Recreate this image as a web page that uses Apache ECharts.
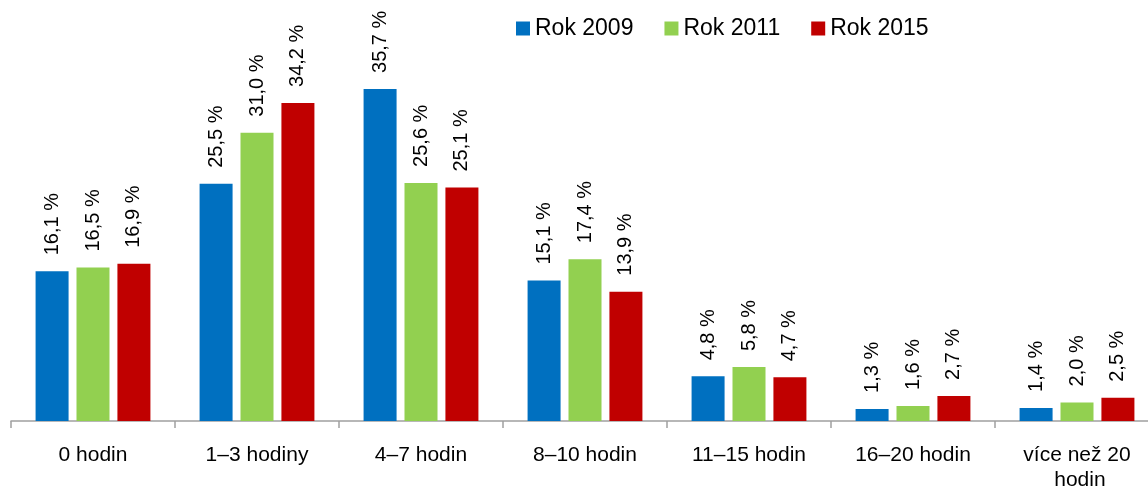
<!DOCTYPE html>
<html>
<head>
<meta charset="utf-8">
<script src="https://cdn.jsdelivr.net/npm/echarts@6/dist/echarts.min.js"></script>
<style>
    html, body { margin: 0; padding: 0; background: #fff; }
    #chart { width: 1148px; height: 490px; }
</style>
</head>
<body>
<div id="chart"></div>
<script>
// Categories and values
var categories = ['0 hodin', '1–3 hodiny', '4–7 hodin', '8–10 hodin', '11–15 hodin', '16–20 hodin', 'více než 20 hodin'];
var rok2009 = [16.1, 25.5, 35.7, 15.1, 4.8, 1.3, 1.4];
var rok2011 = [16.5, 31.0, 25.6, 17.4, 5.8, 1.6, 2.0];
var rok2015 = [16.9, 34.2, 25.1, 13.9, 4.7, 2.7, 2.5];

var chart = echarts.init(document.getElementById('chart'));

var labelStyle = {
    show: true,
    position: 'top',
    rotate: 90,
    align: 'left',
    verticalAlign: 'middle',
    distance: 16,
    fontFamily: 'Liberation Sans',
    fontSize: 20,
    color: '#000',
    formatter: function (p) {
        return p.value.toFixed(1).replace('.', ',') + ' %';
    }
};

var option = {
    animation: false,
    textStyle: { fontFamily: 'Liberation Sans' },
    legend: {
        left: 516,
        top: 17,
        padding: 0,
        itemWidth: 14,
        itemHeight: 14,
        itemGap: 31,
        icon: 'rect',
        textStyle: { fontSize: 23, color: '#000' },
        data: ['Rok 2009', 'Rok 2011', 'Rok 2015']
    },
    grid: {
        left: 11,
        right: -11,
        top: 49,
        bottom: 69,
        outerBoundsMode: 'none'
    },
    xAxis: {
        type: 'category',
        data: categories,
        axisLine: { show: true, lineStyle: { color: '#a0a0a0', width: 1.5 } },
        axisTick: { show: true, length: 7, lineStyle: { color: '#a0a0a0', width: 1.5 } },
        axisLabel: {
            interval: 0,
            margin: 22,
            fontSize: 21,
            lineHeight: 25,
            color: '#000',
            width: 135,
            overflow: 'break'
        }
    },
    yAxis: {
        type: 'value',
        min: 0,
        max: 40,
        show: false,
        splitLine: { show: false }
    },
    series: [
        {
            name: 'Rok 2009',
            type: 'bar',
            barWidth: 33,
            barGap: '24%',
            itemStyle: { color: '#0070C0' },
            label: labelStyle,
            data: rok2009
        },
        {
            name: 'Rok 2011',
            type: 'bar',
            barWidth: 33,
            barGap: '24%',
            itemStyle: { color: '#92D050' },
            label: labelStyle,
            data: rok2011
        },
        {
            name: 'Rok 2015',
            type: 'bar',
            barWidth: 33,
            barGap: '24%',
            itemStyle: { color: '#C00000' },
            label: labelStyle,
            data: rok2015
        }
    ]
};

chart.setOption(option);
</script>
</body>
</html>
